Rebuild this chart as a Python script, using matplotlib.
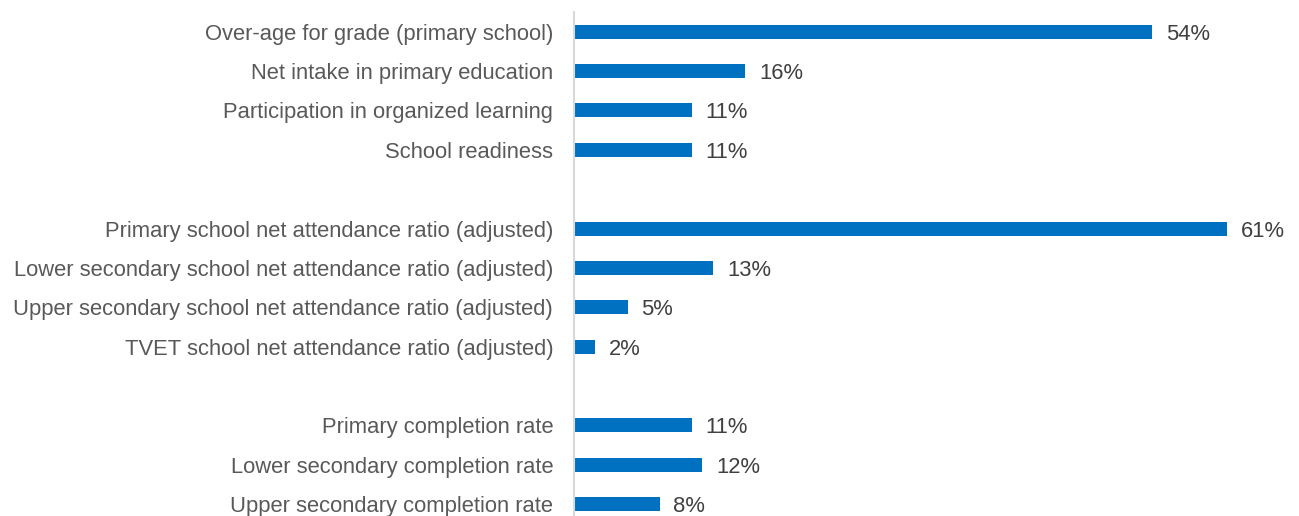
import matplotlib.pyplot as plt
import numpy as np

plt.rcParams['font.family'] = ['Liberation Sans', 'DejaVu Sans']

labels = ['Over-age for grade (primary school)',
          'Net intake in primary education',
          'Participation in organized learning',
          'School readiness',
          'Primary school net attendance ratio (adjusted)',
          'Lower secondary school net attendance ratio (adjusted)',
          'Upper secondary school net attendance ratio (adjusted)',
          'TVET school net attendance ratio (adjusted)',
          'Primary completion rate',
          'Lower secondary completion rate',
          'Upper secondary completion rate']
values = [54, 16, 11, 11, 61, 13, 5, 2, 11, 12, 8]
group_sizes = [4, 4, 3]

# row positions with one empty row between groups
ypos = []
start = 0
for n in group_sizes:
    ypos += list(range(start, start + n))
    start += n + 1
ypos = np.array(ypos)

fig = plt.figure(figsize=(12.99, 5.16), dpi=100)
ax = fig.add_axes([574 / 1299, 0, 716 / 1299, 1 - 12 / 516])

ax.barh(ypos, values, height=0.355, color='#0070C0')
for y, v in zip(ypos, values):
    ax.annotate(f'{v}%', (v, y), xytext=(10, 0), textcoords='offset points',
                va='center_baseline', ha='left', fontsize=15.8, color='#404040')

ax.set_xlim(0, 716 / 10.7)
ax.set_ylim(12.3, -0.5)
ax.set_yticks(ypos)
ax.set_yticklabels(labels, fontsize=15.8, color='#595959', va='center_baseline')
ax.tick_params(axis='y', length=0, pad=15)
ax.set_xticks([])
for s in ['top', 'right', 'bottom']:
    ax.spines[s].set_visible(False)
ax.spines['left'].set_color('#d9d9d9')
ax.spines['left'].set_linewidth(1.5)

plt.savefig('out.png', dpi=100)
